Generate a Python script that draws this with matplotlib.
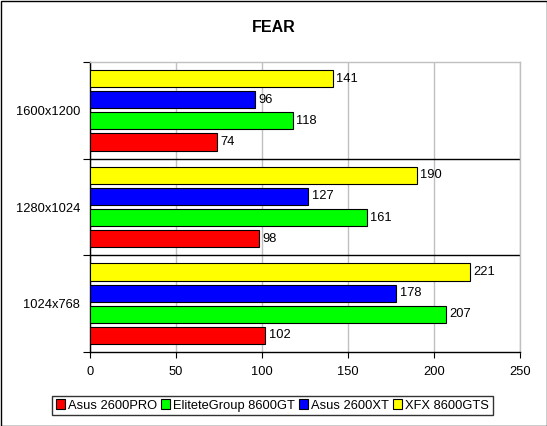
import matplotlib
matplotlib.use("Agg")
import matplotlib.pyplot as plt
from matplotlib.patches import Patch, Rectangle
import numpy as np

plt.rcParams['font.family'] = ['Liberation Sans', 'DejaVu Sans']

categories = ["1024x768", "1280x1024", "1600x1200"]
series_names = ["Asus 2600PRO", "EliteteGroup 8600GT", "Asus 2600XT", "XFX 8600GTS"]
colors = ["#FF0000", "#00FF00", "#0000FF", "#FFFF00"]
asus_2600pro = [102, 98, 74]
elitegroup_8600gt = [207, 161, 118]
asus_2600xt = [178, 127, 96]
xfx_8600gts = [221, 190, 141]
series_values = [asus_2600pro, elitegroup_8600gt, asus_2600xt, xfx_8600gts]
x_ticks = [0, 50, 100, 150, 200, 250]

W, H = 547, 426
fig = plt.figure(figsize=(W / 100, H / 100), dpi=100)
fig.patch.set_facecolor("white")

ax = fig.add_axes([90 / W, 1 - 352 / H, 430 / W, 290 / H])
ax.set_facecolor("white")

step = 0.218
height = 0.178
centers = np.arange(len(categories)) + 0.5
for i, (name, vals, c) in enumerate(zip(series_names, series_values, colors)):
    y = centers + (i - 1.5) * step
    ax.barh(y, vals, height=height, color=c, edgecolor="black", linewidth=0.8, zorder=3)
    for yy, v in zip(y, vals):
        ax.text(v + 2, yy, str(v), va="center", ha="left", fontsize=9.3, zorder=4)

ax.set_xlim(0, 250)
ax.set_ylim(0, len(categories))
ax.set_xticks(x_ticks)
ax.set_xticklabels([str(t) for t in x_ticks], fontsize=9.3)
ax.xaxis.grid(True, color="#C0C0C0", linewidth=1, zorder=0)
ax.set_axisbelow(True)

ax.set_yticks(np.arange(len(categories) + 1))
ax.set_yticklabels([])
ax.set_yticks(centers, minor=True)
ax.set_yticklabels(categories, minor=True, fontsize=9.3)
ax.tick_params(axis="y", which="minor", length=0, pad=7)
ax.tick_params(axis="y", which="major", length=5, direction="out", color="black")
ax.tick_params(axis="x", length=4, direction="out", pad=6)

for b in range(1, len(categories)):
    ax.axhline(b, color="black", linewidth=1, zorder=2)

for s in ["top", "right"]:
    ax.spines[s].set_color("#C0C0C0")
    ax.spines[s].set_linewidth(1)
for s in ["left", "bottom"]:
    ax.spines[s].set_color("black")
    ax.spines[s].set_linewidth(1)

fig.text(0.5, 1 - 27 / H, "FEAR", ha="center", va="center", fontsize=11.5, fontweight="bold")

handles = [Patch(facecolor=c, edgecolor="black", linewidth=0.8) for c in colors]
leg = fig.legend(handles, series_names, loc="center", bbox_to_anchor=(272.5 / W, 1 - 405.5 / H),
                 ncol=4, fontsize=9.3, frameon=True, fancybox=False, handlelength=0.7,
                 handleheight=0.7, handletextpad=0.2, columnspacing=0.35, borderpad=0.3,
                 borderaxespad=0)
leg.get_frame().set_edgecolor("black")
leg.get_frame().set_linewidth(1)

fig.patches.append(Rectangle((0.5 / W, 0.5 / H), (W - 1) / W, (H - 1) / H, transform=fig.transFigure,
                             fill=False, edgecolor="black", linewidth=1))

fig.savefig("out.png", dpi=100)
